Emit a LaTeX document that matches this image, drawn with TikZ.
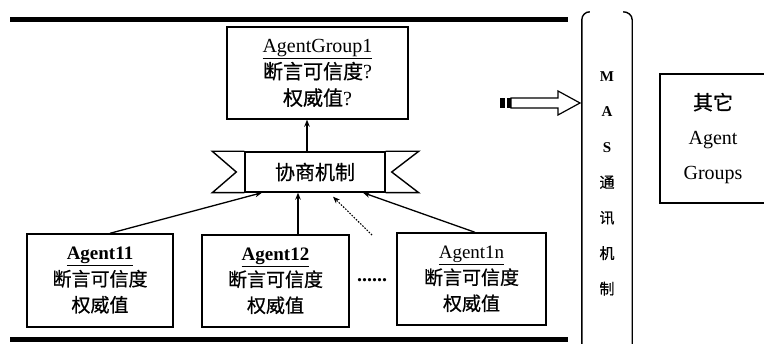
\documentclass[tikz,border=0pt]{standalone}
\usepackage{fontspec}
\setmainfont{Liberation Serif}
\newfontfamily\cjk[FakeBold=0.6]{Noto Sans CJK SC}
\usetikzlibrary{arrows.meta}
\begin{document}
\begin{tikzpicture}[x=1pt,y=-1pt]
\tikzset{
 box/.style={draw, line width=1.4pt, align=center, inner sep=0pt},
 arr/.style={line width=1.3pt, -{Stealth[length=7pt,width=5.5pt]}},
 bar/.style={line width=5pt},
 edge/.style={line width=1.4pt},
}
\useasboundingbox (0,0) rectangle (764,344);
% thick bars
\draw[bar] (10,20) -- (568,20);
\draw[bar] (10,340) -- (568,340);
% AgentGroup1
\node[box, minimum width=181pt, minimum height=92pt, font=\fontsize{20}{26.5}\selectfont] (ag1) at (317.5,73)
  {\underline{AgentGroup1}\\{\cjk 断言可信度}?\\{\cjk 权威值}?};
% ribbon
\node[box, minimum width=140pt, minimum height=40pt, font=\cjk\fontsize{20}{24}\selectfont] (rib) at (315,172) {协商机制};
\draw[edge, line join=miter] (rib.north west) -- ([xshift=-32pt]rib.north west) -- ([xshift=-8pt]rib.west)
  -- ([xshift=-32pt]rib.south west) -- (rib.south west);
\draw[edge, line join=miter] (rib.north east) -- ([xshift=33pt]rib.north east) -- ([xshift=6pt]rib.east)
  -- ([xshift=33pt]rib.south east) -- (rib.south east);
% agents
\node[box, minimum width=146pt, minimum height=93pt, font=\fontsize{19}{26}\selectfont] (a11) at (100,280.5)
  {\underline{\textbf{Agent11}}\\{\cjk 断言可信度}\\{\cjk 权威值}};
\node[box, minimum width=147pt, minimum height=92pt, font=\fontsize{19}{26}\selectfont] (a12) at (275.5,281)
  {\underline{\textbf{Agent12}}\\{\cjk 断言可信度}\\{\cjk 权威值}};
\node[box, minimum width=149pt, minimum height=92pt, font=\fontsize{19}{26}\selectfont] (a1n) at (471.5,279)
  {\underline{Agent1n}\\{\cjk 断言可信度}\\{\cjk 权威值}};
\node[font=\bfseries\fontsize{20}{20}\selectfont, anchor=base, inner sep=0pt] (dots) at (372,282) {......};
% arrows
\draw[arr] (rib.north -| 307,0) -- (ag1.south -| 307,0);
\draw[arr] ([xshift=10pt]a11.north) -- ([xshift=-53pt]rib.south);
\draw[arr] ([xshift=22.5pt]a12.north) -- ([xshift=22.5pt]a12.north |- rib.south);
\draw[arr] ([xshift=3.5pt]a1n.north) -- ([xshift=48pt]rib.south);
\coordinate (dstart) at (372,235);
\draw[arr, dash pattern=on 1.5pt off 1.5pt, line width=1.1pt] (dstart) -- ([xshift=18pt,yshift=-4pt]rib.south);
% MAS
\node[align=center, minimum width=50pt, minimum height=343pt, inner sep=0pt,
  font=\fontsize{15}{35.5}\selectfont] (mas) at (607,183.5)
  {\textbf{M}\\\textbf{A}\\\textbf{S}\\{\cjk 通}\\{\cjk 讯}\\{\cjk 机}\\{\cjk 制}};
\draw[edge] ([xshift=8pt]mas.north west) to[out=180,in=90] ([yshift=-8pt]mas.north west) -- (mas.south west);
\draw[edge] ([xshift=-9pt]mas.north east) to[out=0,in=90] ([yshift=-8pt]mas.north east) -- (mas.south east);
% big arrow
\fill (500,98) rectangle (505,108);
\fill (507,98) rectangle (511,108);
\draw[line width=1.2pt, line join=miter] (511,98) -- (558,98) -- (558,91) -- (580,103) -- (558,115) -- (558,108) -- (511,108) -- cycle;
% other groups
\node[box, minimum width=106pt, minimum height=129pt, font=\fontsize{20}{35}\selectfont] (oth) at (713,138.5)
  {{\cjk 其它}\\Agent\\Groups};
\end{tikzpicture}
\end{document}
